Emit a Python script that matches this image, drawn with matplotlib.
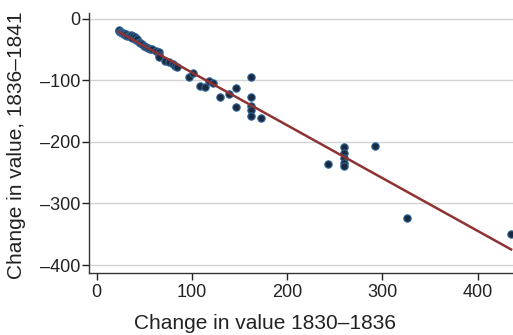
import numpy as np
import matplotlib
matplotlib.use('Agg')
import matplotlib.pyplot as plt

# change in value 1830-1836 (x) vs 1836-1841 (y)
change_1830_36 = [23, 24, 25, 26, 27, 28, 29, 30, 31, 32, 34, 36, 37, 38, 40, 41,
                  42, 44, 46, 48, 50, 52, 54, 56, 58, 62, 65, 65, 65, 72, 76, 80,
                  82, 84, 97, 101, 109, 114, 118, 122, 130, 139, 146, 146, 162,
                  162, 162, 162, 162, 172, 243, 260, 260, 260, 260, 260, 292,
                  326, 435]
change_1836_41 = [-20, -18, -22, -21, -23, -24, -25, -26, -25, -28, -29, -27, -31,
                  -29, -30, -34, -33, -38, -40, -41, -44, -46, -48, -50, -49, -52,
                  -55, -59, -62, -69, -71, -73, -77, -78, -95, -88, -110, -111,
                  -102, -105, -127, -123, -112, -143, -94, -128, -142, -149, -158,
                  -161, -236, -209, -218, -227, -234, -240, -207, -324, -350]
x_ticks = [0, 100, 200, 300, 400]
y_ticks = [0, -100, -200, -300, -400]

plt.rcParams['font.family'] = ['Liberation Sans', 'DejaVu Sans']

fig = plt.figure(figsize=(5.13, 3.35), dpi=100)
ax = fig.add_axes([0.1735, 0.185, 0.8265, 0.776])

ax.scatter(change_1830_36, change_1836_41, s=28, color='#1b2a3e',
           edgecolors='#2f6496', linewidths=0.8, zorder=3, clip_on=True)

slope, icpt = np.polyfit(change_1830_36, change_1836_41, 1)
xs = np.array([min(change_1830_36), max(change_1830_36)])
ax.plot(xs, slope * xs + icpt, color='#8e3234', lw=1.8, zorder=4)

ax.set_xlim(-8, 437)
ax.set_ylim(-413, 9)
ax.set_xticks(x_ticks)
ax.set_yticks(y_ticks)
ax.set_yticklabels(['0', '–100', '–200', '–300', '–400'])
ax.grid(axis='y', color='#d3d3d3', lw=1)
ax.set_axisbelow(True)

for s in ['top', 'right']:
    ax.spines[s].set_visible(False)
for s in ['left', 'bottom']:
    ax.spines[s].set_color('#333333')
    ax.spines[s].set_linewidth(1.0)

ax.tick_params(colors='#222222', labelsize=13, length=5, width=1, direction='out')
ax.tick_params(axis='x', pad=3)
ax.tick_params(axis='y', pad=1)

ax.set_xlabel('Change in value 1830–1836', fontsize=15, color='#222222')
ax.xaxis.set_label_coords(0.414, -0.158)
ax.set_ylabel('Change in value, 1836–1841', fontsize=15, color='#222222')
ax.yaxis.set_label_coords(-0.148, 0.49)

fig.savefig('out.png', dpi=100)
